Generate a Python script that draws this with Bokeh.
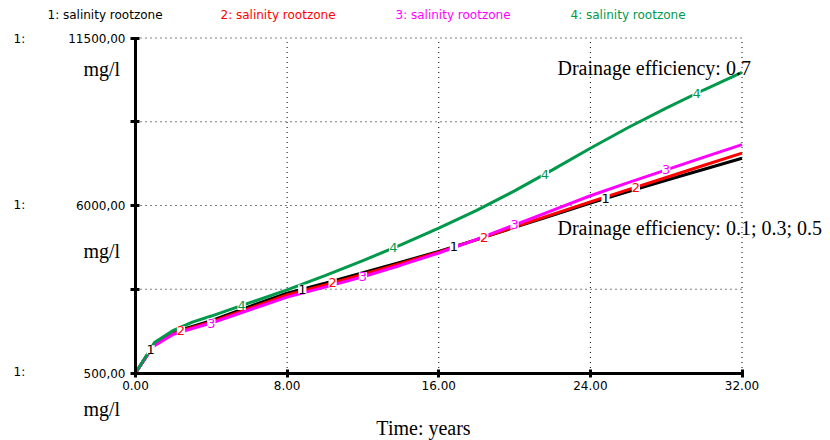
import numpy as np
from bokeh.plotting import figure
from bokeh.models import FixedTicker, Label, Range1d, LinearAxis
from bokeh.core.properties import value
from bokeh.embed import file_html
from bokeh.resources import INLINE

# ---- data ----
time = [0, 0.6, 1, 2, 3, 4, 6, 8, 10, 12, 14, 16, 18, 20, 22, 24, 26, 28, 30, 32]
sal_1 = [500, 1080, 1440, 1840, 2030, 2220, 2680, 3120, 3450, 3790, 4140, 4490, 4880, 5280, 5680, 6080, 6460, 6830, 7190, 7550]
sal_2 = [500, 1070, 1420, 1810, 2000, 2180, 2620, 3060, 3390, 3740, 4100, 4470, 4880, 5300, 5710, 6120, 6520, 6920, 7320, 7720]
sal_3 = [500, 1060, 1400, 1770, 1960, 2140, 2570, 2990, 3320, 3660, 4040, 4440, 4890, 5360, 5840, 6320, 6750, 7170, 7590, 8000]
sal_4 = [500, 1090, 1500, 1900, 2170, 2370, 2800, 3230, 3700, 4190, 4710, 5260, 5840, 6480, 7170, 7880, 8560, 9200, 9800, 10370]

series_names = ["1: salinity rootzone", "2: salinity rootzone", "3: salinity rootzone", "4: salinity rootzone"]
series_colors = ["#000000", "#ff0000", "#ff00ff", "#00994c"]
series = [sal_1, sal_2, sal_3, sal_4]

x_ticks = [0, 8, 16, 24, 32]
x_tick_labels = ["0.00", "8.00", "16.00", "24.00", "32.00"]
y_ticks = [500, 3250, 6000, 8750, 11500]
y_tick_labels = ["500,00", "", "6000,00", "", "11500,00"]

SANS = "DejaVu Sans"
SERIF = "Liberation Serif"

# ---- layout: frame fills the canvas; plot area placed inside it ----
W, H = 830, 440
AX_L, AX_R = 135.0, 741.5      # screen x of time 0 and 32
AX_B, AX_T = 372.5, 37.5       # screen y (from top) of 500 and 11500
xmin, xmax = x_ticks[0], x_ticks[-1]
ymin, ymax = y_ticks[0], y_ticks[-1]
xs = (xmax - xmin) / (AX_R - AX_L)
ys_ = (ymax - ymin) / (AX_B - AX_T)
x_range = Range1d(xmin - AX_L * xs, xmax + (W - AX_R) * xs)
y_range = Range1d(ymin - (H - AX_B) * ys_, ymax + AX_T * ys_)

p = figure(width=W, height=H, output_backend="svg", toolbar_location=None,
           x_range=x_range, y_range=y_range, x_axis_type=None, y_axis_type=None,
           min_border=0)
p.outline_line_color = None
p.background_fill_color = "white"
p.border_fill_color = "white"

# dotted grid
gx = [t for t in x_ticks if t != xmin]
gy = [t for t in y_ticks if t != ymin]
p.segment(x0=gx, y0=[ymin] * len(gx), x1=gx, y1=[ymax] * len(gx),
          line_color="black", line_dash="1 4", line_width=1)
p.segment(x0=[xmin] * len(gy), y0=gy, x1=[xmax] * len(gy), y1=gy,
          line_color="black", line_dash="1 4", line_width=1)

xaxis = LinearAxis(fixed_location=ymin, bounds=(xmin, xmax))
yaxis = LinearAxis(fixed_location=xmin, bounds=(ymin, ymax))
for ax, ticks, labels in ((xaxis, x_ticks, x_tick_labels), (yaxis, y_ticks, y_tick_labels)):
    ax.ticker = FixedTicker(ticks=ticks)
    ax.major_label_overrides = {t: l for t, l in zip(ticks, labels)}
    ax.axis_line_width = 3
    ax.axis_line_color = "black"
    ax.major_tick_line_width = 3
    ax.major_tick_line_color = "black"
    ax.major_tick_in = 4
    ax.major_tick_out = 5
    ax.minor_tick_line_color = None
    ax.major_label_text_font = SANS
    ax.major_label_text_font_size = "12px"
    ax.major_label_text_color = "black"
xaxis.major_tick_out = 4
xaxis.major_label_standoff = 4
yaxis.major_label_standoff = 5
p.add_layout(xaxis, "below")
p.add_layout(yaxis, "left")

# lines
for ys, col in zip(series, series_colors):
    p.line(time, ys, line_color=col, line_width=3)

# numbered markers along each line
for k, (ys, col) in enumerate(zip(series, series_colors)):
    lx = [0.8 + 1.6 * k + 8 * j for j in range(4)]
    ly = list(np.interp(lx, time, ys))
    p.text(x=lx, y=ly, text=[str(k + 1)] * 4, text_color=col,
           text_font=value(SANS), text_font_size="13px",
           text_align="center", text_baseline="middle",
           background_fill_color="white")

def lab(x, y_from_top, text, font=SANS, size="12px", color="black", align="left"):
    p.add_layout(Label(x=x, y=H - y_from_top, x_units="screen", y_units="screen", text=text,
                       text_font=font, text_font_size=size, text_color=color,
                       text_align=align, text_baseline="middle"))

# legend row
for name, col, sx in zip(series_names, series_colors, [47, 220, 395, 570]):
    lab(sx, 14, name, color=col)

# y-axis prefixes and units
for sy in (38, 204, 371):
    lab(13, sy, "1:")
for sy in (68, 250, 408):
    lab(83, sy, "mg/l", font=SERIF, size="20px")

lab(557, 67, "Drainage efficiency: 0.7", font=SERIF, size="20px")
lab(557, 227, "Drainage efficiency: 0.1; 0.3; 0.5", font=SERIF, size="20px")
lab(423, 427, "Time: years", font=SERIF, size="20px", align="center")

open("out.html", "w").write(file_html(p, INLINE))
